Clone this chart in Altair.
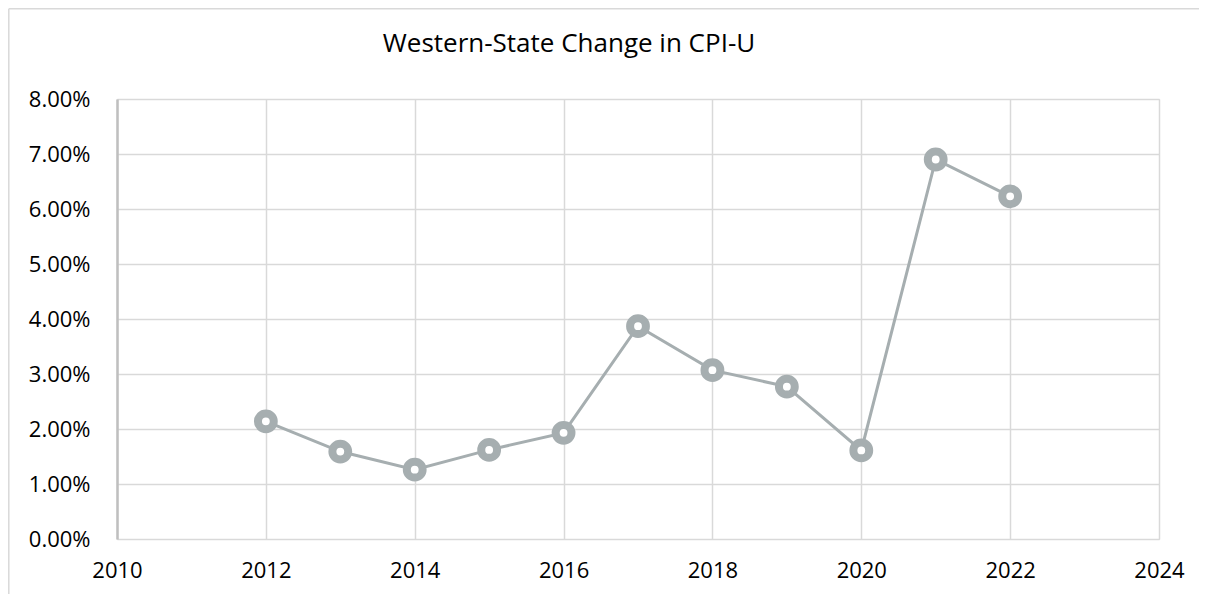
import altair as alt
import pandas as pd

years = [2012, 2013, 2014, 2015, 2016, 2017, 2018, 2019, 2020, 2021, 2022]
cpi_change = [0.0214, 0.0159, 0.0126, 0.0162, 0.0193, 0.0387, 0.0307, 0.0277, 0.0161, 0.0690, 0.0623]
x_ticks = [2010, 2012, 2014, 2016, 2018, 2020, 2022, 2024]
y_ticks = [0, 0.01, 0.02, 0.03, 0.04, 0.05, 0.06, 0.07, 0.08]
title_text = "Western-State Change in CPI-U"

df = pd.DataFrame({"year": years, "value": cpi_change})

FONT = "Open Sans"
COLOR = "#a6aeb0"

x_enc = alt.X("year:Q", scale=alt.Scale(domain=[2010, 2024], nice=False, zero=False),
              axis=alt.Axis(values=x_ticks, format="d", title=None, ticks=False,
                            domain=False, labelPadding=21, labelFontSize=22,
                            labelFont=FONT, labelColor="#000000", labelFlush=False,
                            gridColor="#d9d9d9", gridWidth=1.5))
y_enc = alt.Y("value:Q", scale=alt.Scale(domain=[0, 0.08], nice=False),
              axis=alt.Axis(values=y_ticks, format=".2%", title=None, ticks=False,
                            domain=True, domainColor="#bfbfbf", domainWidth=2.5,
                            labelPadding=27, labelFontSize=22, labelFont=FONT,
                            labelColor="#000000", gridColor="#d9d9d9", gridWidth=1.5))

base = alt.Chart(df)

line = base.mark_line(color=COLOR, strokeWidth=3).encode(x=x_enc, y=y_enc)
points = base.mark_point(shape="circle", filled=False, fill="white", fillOpacity=1,
                         stroke=COLOR, strokeWidth=8, size=250, opacity=1).encode(x="year:Q", y="value:Q")

one = pd.DataFrame({"a": [0]})
border_left = alt.Chart(one).mark_rule(color="#d9d9d9", strokeWidth=1.5).encode(
    x=alt.value(-108.2), y=alt.value(-90.2), y2=alt.value(520))
border_top = alt.Chart(one).mark_rule(color="#d9d9d9", strokeWidth=1.5).encode(
    x=alt.value(-108.2), x2=alt.value(1120), y=alt.value(-90.2))

title = alt.Chart(pd.DataFrame({"t": [title_text]})).mark_text(
    font=FONT, fontSize=26, color="#000000", align="center", baseline="alphabetic"
).encode(x=alt.value(452), y=alt.value(-47), text="t:N")

chart = alt.layer(border_left, border_top, line, points, title).properties(
    width=1042, height=440,
    autosize=alt.AutoSizeParams(type="none"),
    padding={"left": 109, "top": 91, "right": 40, "bottom": 55},
).configure_view(stroke="#d9d9d9", strokeWidth=1.5).configure(background="white")

chart.save("out.html", embed_options={"renderer": "svg", "actions": False})
